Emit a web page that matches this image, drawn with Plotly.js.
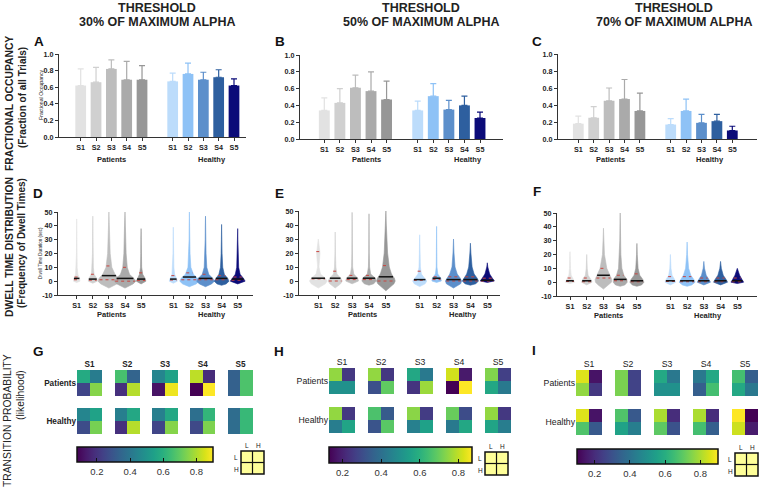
<!DOCTYPE html>
<html><head><meta charset="utf-8">
<script src="https://cdn.plot.ly/plotly-3.0.1.min.js"></script>
<style>html,body{margin:0;padding:0;background:#fff}#chart{width:760px;height:489px}</style>
</head><body><div id="chart"></div>
<script>
// ---------------- DATA ----------------
const stateLabels = ['S1','S2','S3','S4','S5'];
const groupLabels = ['Patients','Healthy'];
const catPos  = [0,1,2,3,4, 6,7,8,9,10];
const catText = ['S1','S2','S3','S4','S5','S1','S2','S3','S4','S5'];

// Fractional occupancy: mean and SD (5 patients states, then 5 healthy states)
const foA_mean = [0.62,0.66,0.82,0.69,0.69, 0.67,0.76,0.69,0.72,0.62];
const foA_sd   = [0.20,0.18,0.11,0.22,0.17, 0.10,0.13,0.09,0.09,0.08];
const foB_mean = [0.34,0.43,0.61,0.57,0.47, 0.34,0.51,0.35,0.40,0.25];
const foB_sd   = [0.15,0.17,0.15,0.23,0.22, 0.11,0.15,0.11,0.11,0.07];
const foC_mean = [0.18,0.25,0.45,0.47,0.33, 0.17,0.33,0.19,0.21,0.10];
const foC_sd   = [0.09,0.13,0.15,0.23,0.21, 0.07,0.14,0.10,0.08,0.05];

// Dwell time distributions: density profile (half-width) read at fixed dwell levels
const dwellLevels = [-2,0,2,5,10,20,30,40];
const dwD_min = [-1,-1.5,-5,-5,-2, -1.5,-4,-4,-3,-2];
const dwD_max = [45,47,50,50,38, 39,50,47,41,38];
const dwD_med = [2,1.5,4,2,1.5, 1.5,3,2,2,1.5];
const dwD_q1  = [1,0.7,1,0,0.5, 0.8,1,1,1,0.7];
const dwD_q3  = [3,5,11,10,6, 4,6,5,4,3];
const dwD_w = [
 [0,0.2,0.18,0.07,0.03,0.015,0.01,0.01],
 [0,0.28,0.25,0.08,0.035,0.02,0.015,0.01],
 [0.5,0.68,0.62,0.38,0.18,0.08,0.04,0.025],
 [0.5,0.68,0.55,0.28,0.14,0.07,0.04,0.03],
 [0,0.3,0.25,0.1,0.035,0.02,0.015,0],
 [0,0.25,0.2,0.08,0.035,0.02,0.015,0],
 [0.42,0.6,0.52,0.25,0.09,0.04,0.02,0.015],
 [0.38,0.55,0.45,0.2,0.08,0.035,0.02,0.012],
 [0.28,0.46,0.38,0.17,0.07,0.03,0.015,0.01],
 [0,0.46,0.36,0.15,0.06,0.02,0.012,0]
];
const dwE_min = [-5,-5,-2,-3,-7, -4,-1,-5,-3,-1];
const dwE_max = [30,35,49,48,50, 33,39,30,27,13];
const dwE_med = [2,2,2,2,3, 1,2,1,1,0.5];
const dwE_q1  = [1.5,0,1,1,0, 0.5,1,0,0,0];
const dwE_q3  = [21,7,4,4,11, 7,3,3,3,2];
const dwE_w = [
 [0.42,0.52,0.42,0.13,0.04,0.1,0,0],
 [0.32,0.42,0.33,0.1,0.04,0.015,0.01,0],
 [0.2,0.38,0.33,0.1,0.03,0.015,0.01,0.008],
 [0.28,0.42,0.38,0.1,0.035,0.015,0.01,0.008],
 [0.48,0.55,0.5,0.33,0.2,0.1,0.05,0.025],
 [0.32,0.42,0.3,0.1,0.04,0.02,0.01,0],
 [0,0.28,0.25,0.07,0.02,0.015,0.01,0],
 [0.42,0.48,0.4,0.22,0.09,0.03,0,0],
 [0.32,0.48,0.4,0.22,0.1,0.03,0,0],
 [0,0.42,0.3,0.14,0.03,0,0,0]
];
const dwF_min = [-1,-2,-5,-3,-3, -2,-3,-2,-2,-1];
const dwF_max = [22,20,39,50,28, 20,29,15,15,10];
const dwF_med = [1,1,5,2,1, 1,1,1,1,1];
const dwF_q1  = [0.5,0.3,3,1,0.3, 0.5,0.3,0.3,0.3,0.3];
const dwF_q3  = [3,3,10,5,6, 4,4,3,3,3];
const dwF_w = [
 [0,0.28,0.2,0.07,0.03,0.01,0,0],
 [0,0.32,0.25,0.08,0.03,0,0,0],
 [0.32,0.48,0.5,0.4,0.2,0.06,0.025,0],
 [0.28,0.42,0.4,0.22,0.1,0.04,0.025,0.015],
 [0.28,0.42,0.35,0.17,0.07,0.02,0,0],
 [0,0.32,0.25,0.1,0.035,0,0,0],
 [0.28,0.48,0.4,0.22,0.09,0.025,0,0],
 [0,0.4,0.3,0.14,0.04,0,0,0],
 [0,0.42,0.33,0.16,0.045,0,0,0],
 [0,0.38,0.28,0.14,0,0,0,0]
];

// Transition probability matrices per state: [L->L, L->H, H->L, H->H]
const tpG_pat = [[0.58,0.42,0.25,0.75],[0.66,0.34,0.19,0.81],[0.45,0.55,0.12,0.88],[0.82,0.18,0.08,0.92],[0.33,0.67,0.33,0.67]];
const tpG_hea = [[0.45,0.55,0.27,0.73],[0.43,0.57,0.19,0.81],[0.43,0.57,0.25,0.75],[0.38,0.62,0.26,0.74],[0.37,0.63,0.37,0.63]];
const tpH_pat = [[0.75,0.25,0.50,0.50],[0.75,0.25,0.31,0.69],[0.57,0.43,0.24,0.76],[0.82,0.18,0.13,0.87],[0.73,0.27,0.57,0.43]];
const tpH_hea = [[0.75,0.25,0.44,0.56],[0.66,0.34,0.32,0.68],[0.74,0.26,0.45,0.55],[0.70,0.30,0.43,0.57],[0.75,0.25,0.56,0.44]];
const tpI_pat = [[0.86,0.14,0.77,0.23],[0.74,0.26,0.74,0.26],[0.58,0.42,0.50,0.50],[0.42,0.58,0.34,0.66],[0.66,0.34,0.58,0.42]];
const tpI_hea = [[0.86,0.14,0.68,0.32],[0.68,0.32,0.56,0.44],[0.80,0.20,0.70,0.30],[0.80,0.20,0.66,0.34],[0.90,0.10,0.84,0.16]];

const colTitles = ['30% OF MAXIMUM ALPHA','50% OF MAXIMUM ALPHA','70% OF MAXIMUM ALPHA'];

// ---------------- STYLE ----------------
const W = 760, H = 489;
const FONT = 'Liberation Sans, Arial, Helvetica, sans-serif';
const COLORS = ['#e2e2e2','#d0d0d0','#bdbdbd','#aaaaaa','#979797',
                '#bcdcfb','#8ec2f6','#5c8fcb','#2e5f9f','#0b0b78'];
const AXC = '#333';
const px = p => p / W;
const py = p => 1 - p / H;

const traces = [];
const layout = {
  width: W, height: H, margin: {l:0, r:0, t:0, b:0},
  paper_bgcolor: '#fff', plot_bgcolor: 'rgba(0,0,0,0)',
  showlegend: false, barmode: 'overlay',
  annotations: [], shapes: []
};
function ann(text, x, y, size, o) {
  o = o || {};
  layout.annotations.push({
    text, x: px(x), y: py(y), xref: 'paper', yref: 'paper', showarrow: false,
    xanchor: o.xanchor || 'center', yanchor: 'middle', textangle: o.angle || 0,
    font: {family: FONT, size, color: o.color || '#222', weight: o.weight || 'normal'}
  });
}

// panel geometry (pixels)
const chartPanels = [
  {ax:1, kind:'bar', xdom:[59,246], ydom:[54,137], x0:80.7, step:15.33, mean:foA_mean, sd:foA_sd, grp:[112,212], gy:159},
  {ax:2, kind:'bar', xdom:[300,503], ydom:[55,139], x0:324.3, step:15.57, mean:foB_mean, sd:foB_sd, grp:[366,468], gy:159},
  {ax:3, kind:'bar', xdom:[558,757], ydom:[54,139], x0:578.3, step:15.4, mean:foC_mean, sd:foC_sd, grp:[610,710], gy:159},
  {ax:4, kind:'vio', xdom:[58,253], ydom:[212,295], x0:76.7, step:16.1, mn:dwD_min, mx:dwD_max, med:dwD_med, q1:dwD_q1, q3:dwD_q3, w:dwD_w, grp:[112,212], gy:314.5},
  {ax:5, kind:'vio', xdom:[299,500], ydom:[211,295], x0:318.3, step:16.9, mn:dwE_min, mx:dwE_max, med:dwE_med, q1:dwE_q1, q3:dwE_q3, w:dwE_w, grp:[362,463], gy:314.5},
  {ax:6, kind:'vio', xdom:[557,757], ydom:[213,296], x0:570, step:16.73, mn:dwF_min, mx:dwF_max, med:dwF_med, q1:dwF_q1, q3:dwF_q3, w:dwF_w, grp:[608,708], gy:315.5}
];

function widthAt(lv, mn, mx, w) {
  const pts = [[mn,0]];
  dwellLevels.forEach((l,i) => { if (l > mn && l < mx) pts.push([l, w[i]]); });
  pts.push([mx,0]);
  for (let i = 0; i < pts.length-1; i++) {
    if (lv >= pts[i][0] && lv <= pts[i+1][0]) {
      const t = (lv - pts[i][0]) / (pts[i+1][0] - pts[i][0]);
      return pts[i][1] + t * (pts[i+1][1] - pts[i][1]);
    }
  }
  return 0;
}

chartPanels.forEach(p => {
  const xs = p.ax === 1 ? '' : p.ax;
  const xa = 'x' + xs, ya = 'y' + xs;
  const isBar = p.kind === 'bar';
  layout['xaxis' + xs] = {
    domain: [px(p.xdom[0]), px(p.xdom[1])], anchor: ya,
    range: [(p.xdom[0]-p.x0)/p.step, (p.xdom[1]-p.x0)/p.step],
    tickvals: catPos, ticktext: catText, ticks: 'outside', ticklen: 3, tickwidth: 1, tickcolor: AXC,
    showline: true, linecolor: AXC, linewidth: 1, showgrid: false, zeroline: false,
    tickfont: {family: FONT, size: 7.2, color: '#222', weight: 'bold'}, fixedrange: true
  };
  layout['yaxis' + xs] = {
    domain: [py(p.ydom[1]), py(p.ydom[0])], anchor: xa,
    range: isBar ? [0, 1] : [-10, 50],
    tickvals: isBar ? [0,0.2,0.4,0.6,0.8,1.0] : [-10,0,10,20,30,40,50],
    ticktext: isBar ? ['0.0','0.2','0.4','0.6','0.8','1.0'] : ['-10','0','10','20','30','40','50'],
    ticks: 'outside', ticklen: 3, tickwidth: 1, tickcolor: AXC,
    showline: true, linecolor: AXC, linewidth: 1, showgrid: false, zeroline: false,
    tickfont: {family: FONT, size: 7.2, color: '#222', weight: 'bold'}, fixedrange: true
  };
  if (isBar) {
    for (let i = 0; i < 10; i++) {
      traces.push({type:'bar', x:[catPos[i]], y:[p.mean[i]], width:0.7, xaxis:xa, yaxis:ya,
        marker:{color:COLORS[i], line:{width:0}},
        error_y:{type:'data', symmetric:false, array:[p.sd[i]], arrayminus:[0], color:COLORS[i], thickness:1.2, width:3},
        hoverinfo:'skip'});
    }
  } else {
    const mx_ = [], my_ = [], qx = [], qy = [];
    for (let i = 0; i < 10; i++) {
      const c = catPos[i], mn = p.mn[i], mx = p.mx[i], w = p.w[i];
      const right = [[0, mn]];
      dwellLevels.forEach((l,k) => { if (l > mn && l < mx) right.push([w[k], l]); });
      right.push([0, mx]);
      const X = [], Y = [];
      right.forEach(q => { X.push(c + q[0]); Y.push(q[1]); });
      for (let k = right.length-2; k >= 1; k--) { X.push(c - right[k][0]); Y.push(right[k][1]); }
      X.push(c); Y.push(mn);
      traces.push({type:'scatter', mode:'lines', x:X, y:Y, xaxis:xa, yaxis:ya, fill:'toself',
        fillcolor:COLORS[i], line:{color:COLORS[i], width:0.6, shape:'linear'}, hoverinfo:'skip'});
      const hw = widthAt(p.med[i], mn, mx, w) * 0.95;
      mx_.push(c - hw, c + hw, null); my_.push(p.med[i], p.med[i], null);
      [p.q1[i], p.q3[i]].forEach(q => {
        const qw = Math.max(widthAt(q, mn, mx, w) * 0.9, 0.12);
        qx.push(c - qw, c + qw, null); qy.push(q, q, null);
      });
    }
    traces.push({type:'scatter', mode:'lines', x:qx, y:qy, xaxis:xa, yaxis:ya,
      line:{color:'#c9453f', width:1, dash:'dot'}, hoverinfo:'skip'});
    traces.push({type:'scatter', mode:'lines', x:mx_, y:my_, xaxis:xa, yaxis:ya,
      line:{color:'#111', width:1.5}, hoverinfo:'skip'});
  }
  ann(groupLabels[0], p.grp[0], p.gy, 7.5, {weight:'bold'});
  ann(groupLabels[1], p.grp[1], p.gy, 7.5, {weight:'bold'});
});

// small axis titles
ann('Fractional Occupancy', 41, 95, 5.2, {angle:-90});
ann('Dwell Time Duration (sec)', 40, 253, 4.5, {angle:-90});

// ---------------- heatmaps ----------------
const heatPanels = [
  {ax:7, pat:tpG_pat, hea:tpG_hea, xdom:[77,253], ydom:[370,434], cmin:0.08, cmax:0.9, cb:[77,213,447,462], leg:[241,451], bold:true, fs:8.2, ca:'coloraxis'},
  {ax:8, pat:tpH_pat, hea:tpH_hea, xdom:[329,511], ydom:[368,433], cmin:0.13, cmax:0.87, cb:[329,472,447,463], leg:[485,452], bold:false, fs:8.7, ca:'coloraxis2'},
  {ax:9, pat:tpI_pat, hea:tpI_hea, xdom:[576,758], ydom:[370,435], cmin:0.1, cmax:0.9, cb:[577,718,449,464], leg:[735,453], bold:false, fs:8.7, ca:'coloraxis3'}
];
heatPanels.forEach(h => {
  const z = [];
  for (let r = 0; r < 5; r++) z.push(new Array(14).fill(null));
  for (let s = 0; s < 5; s++) {
    const c = 3*s;
    z[0][c] = h.pat[s][0]; z[0][c+1] = h.pat[s][1];
    z[1][c] = h.pat[s][2]; z[1][c+1] = h.pat[s][3];
    z[3][c] = h.hea[s][0]; z[3][c+1] = h.hea[s][1];
    z[4][c] = h.hea[s][2]; z[4][c+1] = h.hea[s][3];
  }
  const xa = 'x' + h.ax, ya = 'y' + h.ax;
  traces.push({type:'heatmap', z, xaxis:xa, yaxis:ya, coloraxis:h.ca, hoverongaps:false, hoverinfo:'skip'});
  const tf = {family: FONT, size: h.fs, color: '#222', weight: h.bold ? 'bold' : 'normal'};
  layout['xaxis' + h.ax] = {domain:[px(h.xdom[0]), px(h.xdom[1])], anchor:ya, range:[-0.5,13.5], side:'top',
    tickvals:[0.5,3.5,6.5,9.5,12.5], ticktext:stateLabels, ticks:'', showline:false, showgrid:false, zeroline:false,
    tickfont: tf, fixedrange:true};
  layout['yaxis' + h.ax] = {domain:[py(h.ydom[1]), py(h.ydom[0])], anchor:xa, range:[4.5,-0.5],
    tickvals:[0.5,3.5], ticktext:groupLabels, ticks:'', showline:false, showgrid:false, zeroline:false,
    tickfont: tf, fixedrange:true};
  layout[h.ca] = {colorscale:'Viridis', cmin:h.cmin, cmax:h.cmax, colorbar:{
    orientation:'h', x:px(h.cb[0]), xanchor:'left', y:py(h.cb[2]), yanchor:'top',
    len:h.cb[1]-h.cb[0], lenmode:'pixels', thickness:h.cb[3]-h.cb[2], thicknessmode:'pixels',
    xpad:0, ypad:0, outlinewidth:1.5, outlinecolor:'#111', borderwidth:0,
    tickvals:[0.2,0.4,0.6,0.8], ticktext:['0.2','0.4','0.6','0.8'], ticks:'inside', ticklen:4, tickcolor:'#111',
    tickfont:{family:FONT, size:9.5, color:'#333'}}};
  // L/H legend box
  const [lx, ly] = h.leg, s = 23;
  layout.shapes.push({type:'rect', xref:'paper', yref:'paper', x0:px(lx), x1:px(lx+s), y0:py(ly+s), y1:py(ly), fillcolor:'#ffff99', line:{color:'#111', width:1.5}});
  layout.shapes.push({type:'line', xref:'paper', yref:'paper', x0:px(lx+s/2), x1:px(lx+s/2), y0:py(ly+s), y1:py(ly), line:{color:'#111', width:1.2}});
  layout.shapes.push({type:'line', xref:'paper', yref:'paper', x0:px(lx), x1:px(lx+s), y0:py(ly+s/2), y1:py(ly+s/2), line:{color:'#111', width:1.2}});
  ann('L', lx + s/4, ly - 6, 6.5); ann('H', lx + 3*s/4, ly - 6, 6.5);
  ann('L', lx - 5, ly + s/4 + 1, 6.5); ann('H', lx - 5, ly + 3*s/4 + 1, 6.5);
});

// ---------------- titles and labels ----------------
const colCenters = [157, 421, 674];
colCenters.forEach((cx, i) => {
  ann('THRESHOLD', cx, 8, 12.5, {weight:'bold'});
  ann(colTitles[i], cx, 22, 12.5, {weight:'bold'});
});
ann('FRACTIONAL OCCUPANCY', 9, 104, 10.3, {angle:-90, weight:'bold'});
ann('(Fraction of all Trials)', 22, 98, 10, {angle:-90, weight:'bold'});
ann('DWELL TIME DISTRIBUTION', 9, 247, 10.3, {angle:-90, weight:'bold'});
ann('(Frequency of Dwell Times)', 21, 243, 10, {angle:-90, weight:'bold'});
ann('TRANSITION PROBABILITY', 7, 421, 10.3, {angle:-90});
ann('(likelihood)', 20, 395, 10.3, {angle:-90});

const letters = [['A',39,42],['B',280,42],['C',537,42],['D',38,193],['E',279,193],['F',537,192],['G',38,351],['H',279,351],['I',534,350]];
letters.forEach(l => ann(l[0], l[1], l[2], 13.5, {weight:'bold', color:'#111'}));

Plotly.newPlot('chart', traces, layout, {staticPlot:true, displayModeBar:false});
</script></body></html>
